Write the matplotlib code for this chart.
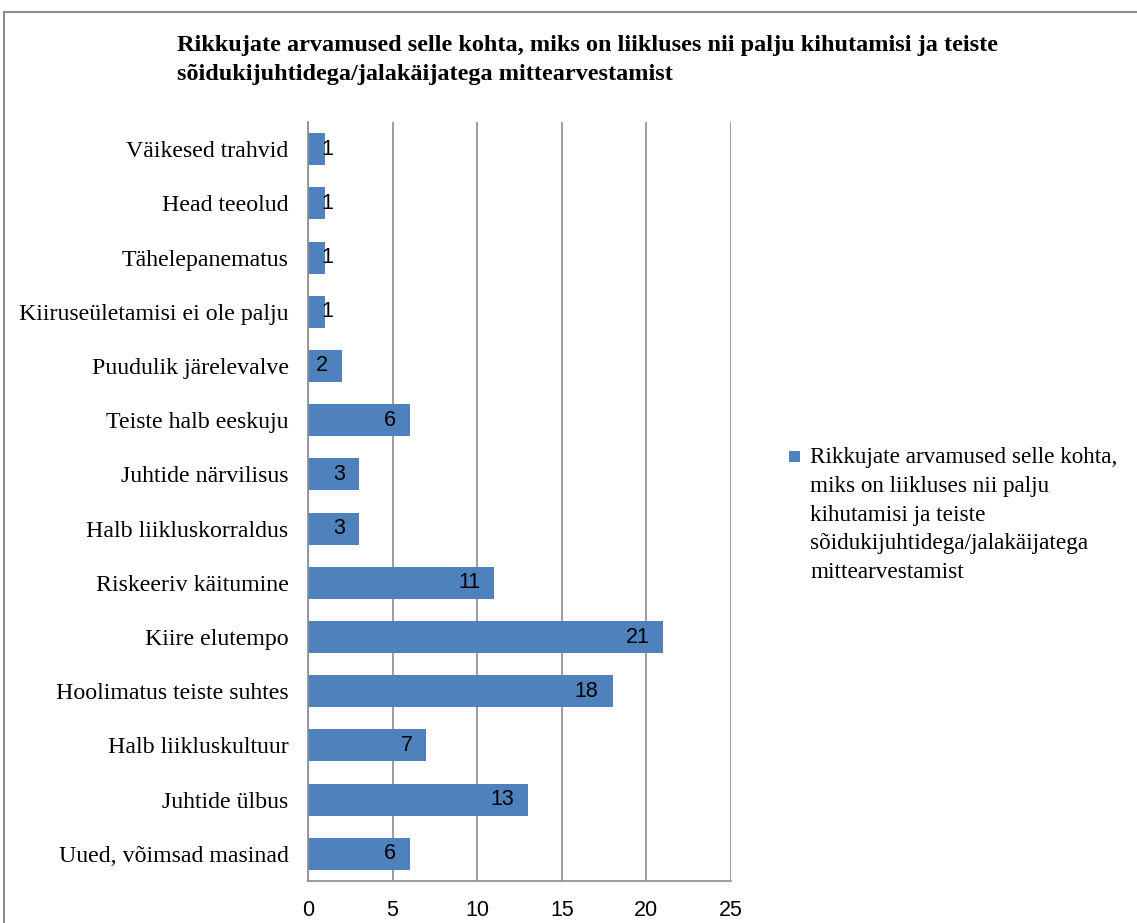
import matplotlib.pyplot as plt
from matplotlib.patches import Rectangle

## Andmed (ülevalt alla)
kategooriad = ["Väikesed trahvid", "Head teeolud", "Tähelepanematus",
               "Kiiruseületamisi ei ole palju", "Puudulik järelevalve",
               "Teiste halb eeskuju", "Juhtide närvilisus", "Halb liikluskorraldus",
               "Riskeeriv käitumine", "Kiire elutempo", "Hoolimatus teiste suhtes",
               "Halb liikluskultuur", "Juhtide ülbus", "Uued, võimsad masinad"]
vaartused = [1, 1, 1, 1, 2, 6, 3, 3, 11, 21, 18, 7, 13, 6]
x_ticks = [0, 5, 10, 15, 20, 25]

pealkiri = ("Rikkujate arvamused selle kohta, miks on liikluses nii palju kihutamisi ja teiste\n"
            "sõidukijuhtidega/jalakäijatega mittearvestamist")
legendi_tekst = ("Rikkujate arvamused selle kohta,\nmiks on liikluses nii palju\n"
                 "kihutamisi ja teiste\nsõidukijuhtidega/jalakäijatega\nmittearvestamist")

W, H = 1137, 923
fig = plt.figure(figsize=(W / 100, H / 100), dpi=100)

# raam
fig.patches.append(Rectangle((4 / W, -0.1), 1.2, 1 - 12 / H + 0.1, transform=fig.transFigure,
                             fill=False, edgecolor="#8c8c8c", linewidth=1.5))

ax = fig.add_axes([308 / W, 1 - 881 / H, (731 - 308) / W, (881 - 122) / H])

y = list(range(len(kategooriad)))
ax.barh(y, vaartused, height=0.59, color="#4F81BD", zorder=3)
ax.set_ylim(len(kategooriad) - 0.5, -0.5)
ax.set_xlim(0, 25)

ax.set_yticks(y)
ax.set_yticklabels(kategooriad, fontfamily="Liberation Serif", fontsize=17.2)
ax.set_xticks(x_ticks)
ax.set_xticklabels([str(t) for t in x_ticks], fontfamily="Liberation Sans", fontsize=15.5)
ax.tick_params(axis="y", length=0, pad=14)
ax.tick_params(axis="x", length=0, pad=14)

ax.grid(axis="x", color="#8c8c8c", linewidth=1.2, zorder=0)
for s in ["top", "right"]:
    ax.spines[s].set_visible(False)
for s in ["left", "bottom"]:
    ax.spines[s].set_color("#8c8c8c")
    ax.spines[s].set_linewidth(1.2)
ax.spines["left"].set_zorder(4)

# väärtuste sildid
for yi, v in zip(y, vaartused):
    if v <= 1:
        ax.text(v + 0.12, yi, str(v), ha="center", va="center",
                fontfamily="Liberation Sans", fontsize=15.5, zorder=5)
    else:
        ax.annotate(str(v), (v, yi), xytext=(-14, 0), textcoords="offset pixels",
                    ha="right", va="center", fontfamily="Liberation Sans", fontsize=15.5, zorder=5)

fig.text(177 / W, 1 - 35 / H, pealkiri, ha="left", va="top", fontfamily="Liberation Serif",
         fontweight="bold", fontsize=17.5, linespacing=1.5)

# legend
fig.patches.append(Rectangle((789 / W, 1 - 462 / H), 11 / W, 11 / H, transform=fig.transFigure,
                             facecolor="#4F81BD", edgecolor="none"))
fig.text(810 / W, 1 - 447 / H, legendi_tekst, ha="left", va="top", fontfamily="Liberation Serif",
         fontsize=16.7, linespacing=1.485)

fig.savefig("out.png", dpi=100)
